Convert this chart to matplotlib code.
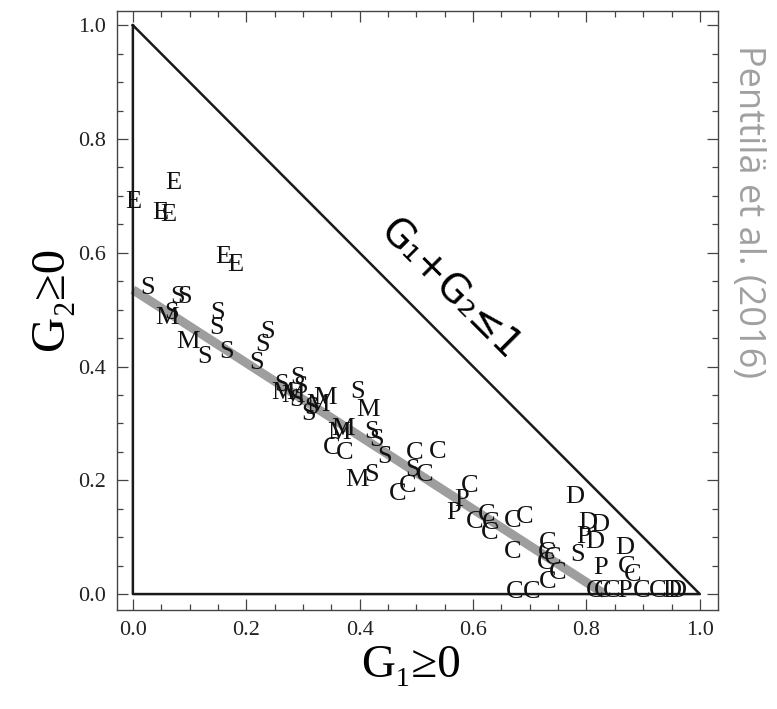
import matplotlib
matplotlib.use("Agg")
import matplotlib.pyplot as plt
from matplotlib.ticker import MultipleLocator

# ---- data ----
labels = list("EEEEEE") + list("SSSSSSSSSSS") + list("MM") + \
    list("SMSSMSMMSS") + list("SM") + list("MMCC") + list("SSS") + list("MS") + \
    list("CCSCCC") + list("CPP") + list("CCCCCC") + list("C") + \
    list("DDDPDSDPCCCC") + list("CCCCCC") + list("CCCPCCDD")
g1 = [0.000, 0.071, 0.048, 0.062, 0.159, 0.180,
      0.026, 0.079, 0.092, 0.069, 0.150, 0.148, 0.127, 0.166, 0.219, 0.238, 0.229,
      0.060, 0.097,
      0.263, 0.265, 0.291, 0.295, 0.282, 0.289, 0.339, 0.326, 0.316, 0.309,
      0.397, 0.414,
      0.370, 0.363, 0.351, 0.374,
      0.421, 0.430, 0.444,
      0.395, 0.421,
      0.497, 0.538, 0.494, 0.515, 0.485, 0.467,
      0.594, 0.580, 0.565,
      0.603, 0.624, 0.631, 0.630, 0.670, 0.691,
      0.670,
      0.780, 0.802, 0.824, 0.794, 0.815, 0.785, 0.868, 0.824, 0.871, 0.882, 0.674, 0.704,
      0.732, 0.730, 0.741, 0.728, 0.750, 0.732,
      0.815, 0.829, 0.845, 0.868, 0.898, 0.926, 0.951, 0.959]
g2 = [0.690, 0.722, 0.670, 0.666, 0.592, 0.578,
      0.538, 0.522, 0.522, 0.494, 0.494, 0.467, 0.417, 0.425, 0.406, 0.460, 0.438,
      0.485, 0.443,
      0.367, 0.353, 0.380, 0.364, 0.348, 0.341, 0.344, 0.332, 0.327, 0.316,
      0.355, 0.323,
      0.290, 0.283, 0.257, 0.248,
      0.285, 0.270, 0.241,
      0.200, 0.209,
      0.248, 0.250, 0.218, 0.209, 0.190, 0.176,
      0.190, 0.165, 0.142,
      0.127, 0.139, 0.125, 0.107, 0.128, 0.135,
      0.074,
      0.170, 0.125, 0.121, 0.100, 0.091, 0.069, 0.081, 0.046, 0.048, 0.033, 0.004, 0.004,
      0.090, 0.072, 0.063, 0.054, 0.037, 0.021,
      0.005, 0.005, 0.005, 0.005, 0.005, 0.005, 0.005, 0.005]

fit_g1 = [0.0, 0.832]
fit_g2 = [0.535, 0.0]

tri_g1 = [0.0, 0.0, 1.0, 0.0]
tri_g2 = [1.0, 0.0, 0.0, 1.0]

xticks = [0.0, 0.2, 0.4, 0.6, 0.8, 1.0]
yticks = [0.0, 0.2, 0.4, 0.6, 0.8, 1.0]

serif = ['Liberation Serif', 'DejaVu Serif']

fig = plt.figure(figsize=(7.77, 7.09), dpi=100)
ax = fig.add_axes([117/777, 1 - 610/709, (718 - 117)/777, (610 - 11)/709])
ax.set_xlim(-0.028, 1.032)
ax.set_ylim(-0.028, 1.025)

ax.plot(fit_g1, fit_g2, color='#9e9e9e', lw=6.5, solid_capstyle='butt', zorder=1)
ax.plot(tri_g1, tri_g2, color='#1a1a1a', lw=1.8, zorder=2)

for lab, x, y in zip(labels, g1, g2):
    ax.text(x, y, lab, ha='center', va='center', fontsize=19,
            family=serif, color='#111111', zorder=3)

ax.text(0.559, 0.534, 'G₁+G₂≤1', rotation=-45, rotation_mode='anchor',
        ha='center', va='center', fontsize=28, family=['DejaVu Sans'], color='black')

ax.set_xticks(xticks)
ax.set_yticks(yticks)
ax.set_xticklabels([f'{v:.1f}' for v in xticks])
ax.set_yticklabels([f'{v:.1f}' for v in yticks])
ax.xaxis.set_minor_locator(MultipleLocator(0.05))
ax.yaxis.set_minor_locator(MultipleLocator(0.05))
ax.tick_params(which='both', direction='in', top=True, right=True, color='#444444', width=0.9)
ax.tick_params(which='major', length=8, labelsize=16, labelcolor='#222222', pad=8)
ax.tick_params(which='minor', length=4)
for lab in ax.get_xticklabels() + ax.get_yticklabels():
    lab.set_family(serif)
for sp in ax.spines.values():
    sp.set_color('#444444')
    sp.set_linewidth(1.0)

ax.set_xlabel('G₁≥0', fontsize=34, family=serif)
ax.set_ylabel('G₂≥0', fontsize=35, family=serif)
ax.xaxis.set_label_coords(0.49, -0.093)
ax.yaxis.set_label_coords(-0.11, 0.52)
ax.xaxis.label.set_va('center')
ax.yaxis.label.set_va('center')

fig.text(748/777, 1 - 212/709, 'Penttilä et al. (2016)', rotation=270,
         ha='center', va='center', fontsize=26, family=['Open Sans', 'DejaVu Sans'],
         color='#a0a0a0')

fig.savefig('out.png', dpi=100)
